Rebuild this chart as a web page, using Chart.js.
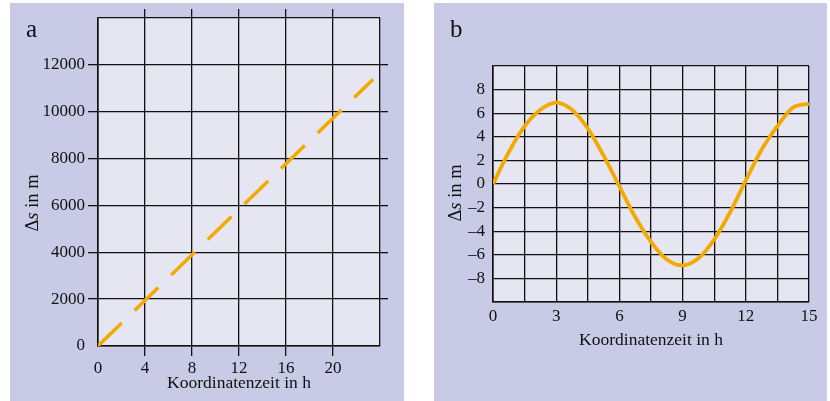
<!DOCTYPE html>
<html>
<head>
<meta charset="utf-8">
<script src="https://cdn.jsdelivr.net/npm/chart.js@4"></script>
<style>
  body { margin: 0; background: #fff; width: 830px; height: 401px; position: relative; overflow: hidden; }
  .panel { position: absolute; background: #c9cae5; }
  #panelA { left: 10px; top: 3px; width: 394px; height: 398px; }
  #panelB { left: 434px; top: 3px; width: 393px; height: 398px; }
  .box { position: absolute; left: 0; top: 0; width: 100%; height: 100%; }
  .txt { position: absolute; font-family: 'Liberation Serif', serif; color: #111; white-space: nowrap; }
  .letter { font-size: 25px; line-height: 1; }
  .ytitle { font-size: 18.5px; line-height: 1; transform: translate(-50%, -50%) rotate(-90deg); }
</style>
</head>
<body>
<div class="panel" id="panelA">
  <div class="box"><canvas id="chartA"></canvas></div>
  <div class="txt letter" style="left:16px; top:13px;">a</div>
  <div class="txt ytitle" style="left:22px; top:200px;">Δ<i>s</i> in m</div>
</div>
<div class="panel" id="panelB">
  <div class="box"><canvas id="chartB"></canvas></div>
  <div class="txt letter" style="left:16px; top:13px;">b</div>
  <div class="txt ytitle" style="left:21px; top:190px;">Δ<i>s</i> in m</div>
</div>
<script>
// panel a: linear drift (straight line, start and end)
const hoursA = [0, 23.4];
const driftA = [0, 11380];
const xTicksA = [0, 4, 8, 12, 16, 20];
const yTicksA = [0, 2000, 4000, 6000, 8000, 10000, 12000];

// panel b: oscillation
const hoursB = [0, 0.75, 1.5, 2.25, 3, 3.75, 4.5, 5.25, 6, 6.75, 7.5, 8.25, 9,
  9.75, 10.5, 11.25, 12, 12.75, 13.5, 14.25, 15];
const driftB = [0, 2.7, 4.9, 6.3, 6.9, 6.3, 4.7, 2.4, -0.2, -2.8, -4.9, -6.4, -6.9,
  -6.3, -4.7, -2.4, 0.3, 2.9, 4.9, 6.5, 6.8];
const xTicksB = [0, 3, 6, 9, 12, 15];
const yTicksB = [-8, -6, -4, -2, 0, 2, 4, 6, 8];

const orange = '#f2a900';
const gridColor = '#111';
const font = { family: 'Liberation Serif', size: 17 };
const titleFont = { family: 'Liberation Serif', size: 17.5 };

const plotBg = {
  id: 'plotBg',
  beforeDraw(chart) {
    const a = chart.chartArea;
    chart.ctx.save();
    chart.ctx.fillStyle = '#e6e5f2';
    chart.ctx.fillRect(a.left, a.top, a.right - a.left, a.bottom - a.top);
    chart.ctx.restore();
  }
};

function pts(xs, ys) {
  return xs.map((x, i) => ({ x: x, y: ys[i] }));
}

function fixSize(prop, v) {
  return (scale) => { scale[prop] = v; };
}

// hide tick marks at the frame corners
function edgeTick(lo, hi) {
  return (ctx) => (ctx.tick && (ctx.tick.value === lo || ctx.tick.value === hi)) ? 'rgba(0,0,0,0)' : gridColor;
}

function label(list) {
  return (v) => list.includes(v) ? (v < 0 ? '\u2013' + Math.abs(v) : String(v)) : '';
}

Chart.defaults.color = '#111';

new Chart(document.getElementById('chartA'), {
  type: 'line',
  data: {
    datasets: [{
      data: pts(hoursA, driftA),
      borderColor: orange,
      borderWidth: 3.5,
      borderDash: [33, 18],
      pointRadius: 0,
      tension: 0,
    }]
  },
  options: {
    responsive: true,
    maintainAspectRatio: false,
    animation: false,
    devicePixelRatio: 1,
    layout: { padding: { top: 6, right: 16, left: 0, bottom: 0 } },
    plugins: { legend: { display: false }, tooltip: { enabled: false } },
    scales: {
      x: {
        type: 'linear', min: 0, max: 24,
        afterFit: fixSize('height', 55),
        ticks: { stepSize: 4, padding: 2, font: font, maxRotation: 0, callback: label(xTicksA) },
        grid: { color: gridColor, lineWidth: 1.3, tickLength: 10, tickColor: edgeTick(0, 24) },
        border: { color: gridColor, width: 1.6 },
        title: { display: true, text: 'Koordinatenzeit in h', font: titleFont, padding: { top: 0, bottom: 7 } },
      },
      x2: {
        type: 'linear', position: 'top', min: 0, max: 24,
        afterFit: fixSize('height', 9),
        ticks: { stepSize: 4, display: false },
        grid: { drawOnChartArea: false, lineWidth: 1.3, tickLength: 9, tickColor: edgeTick(0, 24) },
        border: { display: false },
      },
      y: {
        type: 'linear', min: 0, max: 14000,
        afterFit: fixSize('width', 88),
        ticks: { stepSize: 2000, padding: 3, font: font, callback: label(yTicksA) },
        grid: { color: gridColor, lineWidth: 1.3, tickLength: 10, tickColor: edgeTick(0, 14000) },
        border: { color: gridColor, width: 1.6 },
      },
      y2: {
        type: 'linear', position: 'right', min: 0, max: 14000,
        afterFit: fixSize('width', 8),
        ticks: { stepSize: 2000, display: false },
        grid: { drawOnChartArea: false, lineWidth: 1.3, tickLength: 8, tickColor: edgeTick(0, 14000) },
        border: { display: false },
      },
    },
  },
  plugins: [plotBg],
});

new Chart(document.getElementById('chartB'), {
  type: 'line',
  data: {
    datasets: [{
      data: pts(hoursB, driftB),
      borderColor: orange,
      borderWidth: 3.8,
      pointRadius: 0,
      cubicInterpolationMode: 'monotone',
    }]
  },
  options: {
    responsive: true,
    maintainAspectRatio: false,
    animation: false,
    devicePixelRatio: 1,
    layout: { padding: { top: 63, right: 18, left: 0, bottom: 0 } },
    plugins: { legend: { display: false }, tooltip: { enabled: false } },
    scales: {
      x: {
        type: 'linear', min: 0, max: 15,
        afterFit: fixSize('height', 99),
        ticks: { stepSize: 1.5, padding: 4, font: font, maxRotation: 0, autoSkip: false, callback: label(xTicksB) },
        grid: { color: gridColor, lineWidth: 1.3, drawTicks: false },
        border: { color: gridColor, width: 1.6 },
        title: { display: true, text: 'Koordinatenzeit in h', font: titleFont, padding: { top: 0, bottom: 50 } },
      },
      y: {
        type: 'linear', min: -10, max: 10,
        afterFit: fixSize('width', 59),
        ticks: { stepSize: 2, padding: 8, font: font, callback: label(yTicksB) },
        grid: { color: gridColor, lineWidth: 1.3, drawTicks: false },
        border: { color: gridColor, width: 1.6 },
      },
    },
  },
  plugins: [plotBg],
});
</script>
</body>
</html>
